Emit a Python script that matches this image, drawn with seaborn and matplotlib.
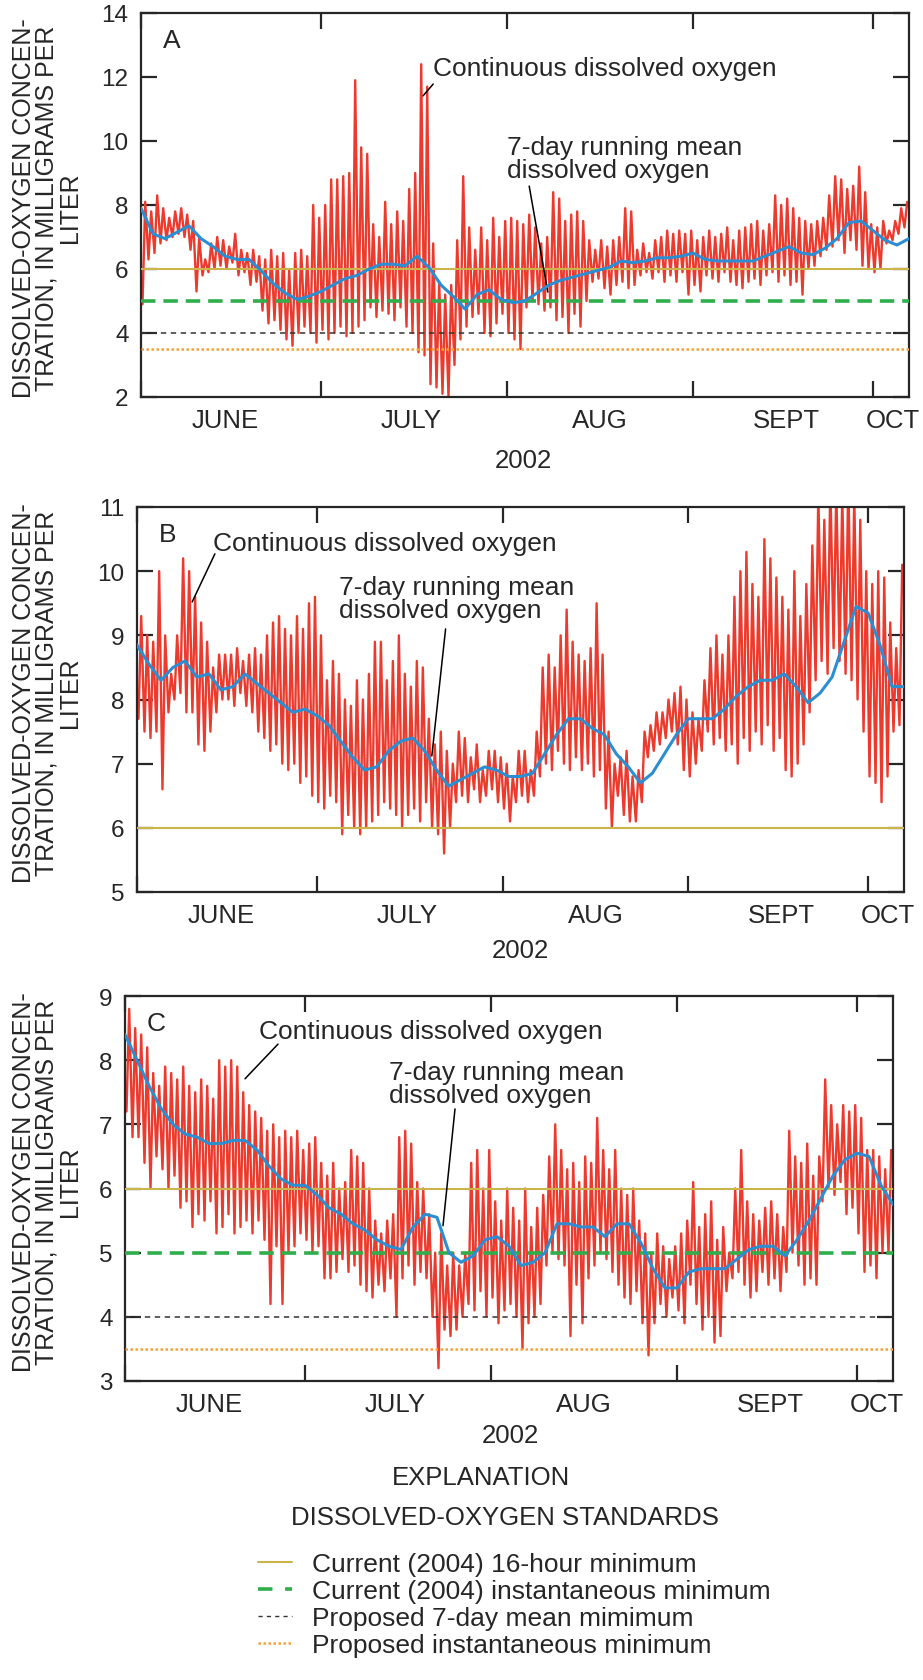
import pandas as pd
import matplotlib.pyplot as plt
import seaborn as sns
from matplotlib.lines import Line2D

# --- data: days counted from June 1, 2002 ---
month_ticks = [0, 30, 61, 92, 122]
month_label_pos = [14, 45, 76.5, 107.5, 125.3]
month_labels = ['JUNE', 'JULY', 'AUG', 'SEPT', 'OCT']

# daily max / min of continuous dissolved oxygen (mg/L)
a_max = [8.1, 7.8, 8.3, 7.9, 7.6, 7.8, 7.9, 7.7, 7.5, 7.0, 6.3, 6.8, 7.0, 6.9, 6.7, 7.1,
         6.6, 6.5, 6.6, 6.4, 6.3, 6.6, 6.4, 6.5, 6.0, 6.5, 6.6, 6.4, 8.0, 7.6, 8.0, 8.8,
         8.8, 8.9, 9.0, 11.9, 9.8, 9.6, 7.4, 7.0, 8.1, 7.4, 7.8, 7.5, 8.5, 9.0, 12.4, 11.7,
         6.8, 5.6, 5.2, 5.5, 6.9, 8.9, 7.3, 6.6, 7.3, 6.9, 7.6, 7.0, 7.5, 7.6, 7.5, 7.4,
         7.7, 7.3, 6.8, 7.0, 8.4, 8.2, 7.5, 7.7, 7.8, 7.5, 6.9, 6.6, 6.9, 6.7, 6.9, 7.0,
         7.9, 7.8, 6.6, 6.8, 6.5, 6.9, 7.0, 7.2, 7.1, 7.2, 7.1, 7.2, 6.9, 7.0, 7.2, 7.0,
         7.1, 7.3, 6.9, 7.2, 7.3, 7.4, 7.5, 7.2, 7.4, 8.3, 8.0, 8.2, 7.9, 7.6, 7.5, 7.4,
         7.5, 7.6, 8.3, 8.9, 8.8, 8.5, 8.6, 9.2, 8.4, 7.4, 7.3, 7.5, 7.2, 7.5, 7.9, 8.1]
a_min = [4.9, 6.3, 6.5, 6.8, 6.9, 7.0, 7.1, 7.0, 6.6, 5.3, 5.8, 5.9, 6.0, 6.1, 6.0, 6.2,
         5.8, 5.9, 5.5, 5.6, 4.7, 4.3, 4.4, 4.1, 3.8, 3.6, 4.0, 4.2, 4.0, 3.7, 4.1, 3.8,
         4.0, 4.2, 3.9, 4.0, 4.2, 4.4, 4.8, 4.5, 4.7, 4.6, 4.4, 4.8, 4.2, 4.0, 3.4, 3.3,
         2.4, 2.3, 2.1, 2.0, 3.0, 3.8, 4.2, 4.5, 4.6, 4.0, 3.9, 4.3, 4.6, 4.0, 3.8, 3.5,
         4.8, 5.0, 4.9, 4.7, 4.8, 4.4, 4.5, 4.0, 4.6, 4.2, 5.0, 5.6, 5.7, 5.4, 5.2, 5.5,
         5.6, 5.4, 5.5, 5.8, 5.9, 5.7, 5.9, 5.6, 5.8, 5.6, 5.9, 5.2, 5.5, 5.3, 5.8, 5.7,
         5.6, 5.9, 5.6, 5.5, 5.4, 5.6, 5.7, 5.5, 5.8, 5.9, 5.6, 5.8, 5.5, 5.6, 5.2, 6.0,
         6.1, 6.4, 6.6, 6.7, 6.9, 6.5, 6.9, 6.6, 6.1, 6.0, 5.9, 6.0, 6.8, 6.9, 7.1, 7.3]

b_max = [9.3, 9.0, 8.9, 10.0, 9.0, 8.4, 9.0, 10.2, 10.0, 9.6, 9.2, 8.9, 8.5, 8.7, 8.7, 8.7,
         8.8, 8.6, 8.7, 8.8, 8.7, 9.0, 9.2, 9.3, 9.1, 9.0, 9.3, 9.1, 9.5, 9.6, 9.0, 8.3,
         8.6, 8.4, 8.0, 7.9, 8.3, 8.0, 8.4, 8.9, 8.9, 8.3, 8.6, 9.0, 8.4, 8.2, 8.6, 8.5,
         7.7, 7.3, 7.5, 7.2, 7.0, 7.5, 7.4, 7.1, 7.3, 6.9, 7.2, 7.2, 7.1, 7.0, 6.8, 7.2,
         7.2, 6.9, 7.5, 8.5, 8.7, 8.5, 9.0, 9.4, 8.9, 8.7, 8.6, 8.8, 9.5, 8.7, 7.5, 7.0,
         7.1, 7.2, 6.8, 6.9, 7.5, 7.6, 7.8, 7.8, 8.0, 8.1, 8.2, 8.0, 7.8, 7.7, 8.3, 8.8,
         9.0, 8.7, 9.0, 9.6, 10.0, 10.3, 9.8, 9.6, 10.5, 10.2, 9.9, 9.6, 9.4, 10.0, 9.3, 9.8,
         10.4, 11.2, 10.8, 11.4, 11.3, 11.2, 11.5, 11.2, 10.8, 10.0, 9.8, 10.0, 9.9, 9.2, 8.8, 10.1]
b_min = [7.7, 7.5, 7.4, 7.5, 6.6, 7.8, 8.0, 8.1, 7.8, 7.8, 7.3, 7.2, 7.5, 7.8, 8.0, 8.0,
         7.9, 8.1, 7.9, 7.8, 7.5, 7.4, 7.2, 7.3, 7.0, 6.9, 7.0, 6.7, 6.8, 6.5, 6.4, 6.3,
         6.5, 6.4, 5.9, 6.2, 6.0, 5.9, 6.0, 6.1, 6.2, 6.4, 6.3, 6.2, 6.0, 6.2, 6.3, 6.1,
         6.4, 6.0, 5.9, 5.6, 6.0, 6.4, 6.5, 6.4, 6.6, 6.4, 6.5, 6.6, 6.4, 6.3, 6.1, 6.4,
         6.5, 6.4, 6.5, 6.8, 7.0, 6.9, 7.2, 7.0, 6.9, 7.1, 6.9, 7.0, 6.8, 6.9, 6.3, 6.0,
         6.5, 6.2, 6.1, 6.1, 6.4, 7.1, 7.2, 7.3, 7.4, 7.5, 7.3, 6.9, 6.8, 7.0, 7.2, 7.5,
         7.3, 7.4, 7.2, 7.3, 7.0, 7.4, 7.2, 7.5, 7.3, 7.6, 7.2, 7.4, 6.9, 6.8, 7.0, 7.3,
         7.8, 8.3, 8.6, 8.4, 8.8, 8.6, 8.4, 8.3, 8.0, 7.5, 6.8, 6.7, 6.4, 6.8, 7.5, 7.6]

c_max = [8.8, 8.5, 8.4, 8.2, 7.8, 7.6, 7.9, 7.8, 7.7, 7.9, 7.6, 7.5, 7.7, 7.6, 7.4, 8.0,
         7.9, 8.0, 7.9, 7.5, 7.3, 7.2, 7.1, 6.9, 7.0, 6.8, 6.9, 6.8, 6.9, 6.6, 6.7, 6.8,
         6.4, 6.2, 6.4, 6.0, 6.1, 6.6, 6.5, 6.4, 6.0, 5.5, 5.3, 5.5, 5.6, 6.8, 6.9, 6.7,
         6.1, 6.0, 5.6, 5.0, 5.3, 4.8, 5.0, 4.8, 5.0, 6.4, 6.6, 6.0, 6.6, 5.8, 5.5, 6.0,
         5.7, 5.5, 6.0, 5.4, 5.7, 5.9, 6.5, 7.0, 6.6, 6.3, 6.4, 6.1, 6.5, 6.4, 7.1, 6.6,
         6.3, 6.6, 6.0, 5.9, 6.0, 5.5, 5.3, 5.0, 5.3, 5.1, 4.9, 5.1, 5.3, 5.5, 6.1, 5.4,
         5.6, 5.8, 5.2, 5.4, 5.0, 6.0, 6.6, 5.8, 5.6, 5.5, 5.7, 5.8, 5.6, 5.4, 6.9, 6.5,
         6.4, 6.7, 6.2, 6.5, 7.7, 7.3, 7.0, 7.3, 7.2, 7.3, 7.1, 6.6, 6.6, 6.5, 6.3, 6.6]
c_min = [7.2, 6.8, 6.8, 6.4, 6.0, 6.5, 6.3, 6.0, 6.2, 5.7, 5.8, 5.4, 5.6, 5.5, 5.8, 5.3,
         5.4, 5.6, 5.3, 5.4, 5.5, 5.3, 5.5, 5.2, 4.2, 5.1, 4.2, 5.0, 5.1, 5.3, 5.2, 5.0,
         5.1, 4.6, 4.6, 4.7, 4.9, 4.7, 4.8, 4.5, 4.4, 4.3, 4.5, 4.4, 4.6, 4.0, 4.6, 4.8,
         4.5, 4.7, 4.6, 4.0, 3.2, 3.8, 3.7, 3.8, 4.0, 4.2, 4.1, 4.4, 4.0, 4.3, 3.9, 4.1,
         4.2, 4.0, 3.5, 3.9, 4.0, 4.2, 4.8, 5.0, 4.9, 4.8, 3.7, 4.5, 3.9, 4.6, 4.8, 5.0,
         4.9, 4.7, 4.5, 4.3, 4.2, 4.4, 3.9, 3.4, 3.9, 4.2, 4.0, 4.3, 4.1, 3.9, 4.5, 4.2,
         3.8, 4.0, 3.6, 3.7, 4.4, 4.6, 4.7, 4.5, 4.3, 4.4, 4.7, 4.5, 4.6, 4.4, 4.7, 5.0,
         4.8, 4.5, 4.6, 4.5, 5.8, 6.0, 5.9, 6.1, 5.6, 5.7, 5.3, 4.7, 4.8, 4.6, 5.0, 5.0]

# 7-day running mean, read every second day
mean_days = list(range(0, 129, 2))
a_mean = [7.9, 7.1, 6.95, 7.15, 7.35, 6.95, 6.7, 6.4, 6.3, 6.3, 5.95, 5.55, 5.25, 5.05, 5.15, 5.3,
          5.5, 5.7, 5.8, 6.0, 6.15, 6.15, 6.1, 6.4, 6.05, 5.5, 5.15, 4.75, 5.2, 5.35, 5.05, 4.95,
          5.0, 5.25, 5.5, 5.65, 5.75, 5.85, 5.95, 6.05, 6.25, 6.2, 6.25, 6.35, 6.35, 6.4, 6.5, 6.3,
          6.25, 6.25, 6.25, 6.25, 6.4, 6.55, 6.7, 6.5, 6.45, 6.65, 6.95, 7.45, 7.5, 7.2, 6.9, 6.75, 6.95]
b_mean = [8.85, 8.55, 8.3, 8.5, 8.6, 8.35, 8.4, 8.15, 8.2, 8.4, 8.25, 8.1, 7.95, 7.8, 7.85, 7.75,
          7.6, 7.35, 7.1, 6.9, 6.95, 7.2, 7.35, 7.4, 7.2, 6.9, 6.65, 6.75, 6.85, 6.95, 6.9, 6.8,
          6.8, 6.85, 7.15, 7.45, 7.7, 7.7, 7.55, 7.45, 7.15, 6.95, 6.7, 6.85, 7.15, 7.45, 7.7, 7.7,
          7.7, 7.85, 8.05, 8.2, 8.3, 8.3, 8.4, 8.2, 7.95, 8.1, 8.35, 8.9, 9.45, 9.35, 8.85, 8.2, 8.2]
c_mean = [8.4, 8.0, 7.6, 7.25, 7.0, 6.85, 6.8, 6.7, 6.7, 6.75, 6.75, 6.6, 6.35, 6.15, 6.05, 6.05,
          5.9, 5.7, 5.6, 5.45, 5.35, 5.2, 5.1, 5.05, 5.4, 5.6, 5.55, 5.0, 4.85, 4.95, 5.2, 5.25,
          5.1, 4.8, 4.85, 5.0, 5.45, 5.45, 5.4, 5.4, 5.25, 5.45, 5.45, 5.15, 4.75, 4.45, 4.45, 4.7,
          4.75, 4.75, 4.75, 4.9, 5.05, 5.1, 5.1, 4.95, 5.2, 5.5, 5.85, 6.2, 6.45, 6.55, 6.5, 6.05, 5.75]

# standards (mg/L)
std_16hr = 6
std_inst = 5
prop_7day = 4
prop_inst = 3.5

RED = '#ec3a2c'
BLUE = '#2b8ed2'
OLIVE = '#cbb54a'
GREEN = '#2fae4b'
ORANGE = '#f8a136'
GREY = '#333333'

sns.set_style("ticks")
plt.rcParams['font.family'] = ['Liberation Sans', 'DejaVu Sans']

W, H = 923, 1681
fig = plt.figure(figsize=(W / 100, H / 100), dpi=100)


def zigzag(dmax, dmin):
    t, v = [], []
    for d, (hi, lo) in enumerate(zip(dmax, dmin)):
        t += [d + 0.25, d + 0.7]
        v += [lo, hi]
    return pd.DataFrame({'day': t, 'do': v})


def panel(rect, dmax, dmin, dmean, ylim, yticks, standards, letter):
    ax = fig.add_axes([rect[0] / W, 1 - rect[3] / H, (rect[2] - rect[0]) / W, (rect[3] - rect[1]) / H])
    sns.lineplot(data=zigzag(dmax, dmin), x='day', y='do', ax=ax, color=RED, lw=1.7,
                 estimator=None, sort=False, zorder=2)
    sns.lineplot(x=mean_days, y=dmean, ax=ax, color=BLUE, lw=2.2, estimator=None, zorder=5)
    if 6 in standards:
        ax.axhline(std_16hr, color=OLIVE, lw=1.5, zorder=3)
    if 5 in standards:
        ax.axhline(std_inst, color=GREEN, lw=2.6, dashes=(4, 2.2), zorder=3)
    if 4 in standards:
        ax.axhline(prop_7day, color=GREY, lw=1.1, dashes=(3.5, 3), zorder=3)
    if 3.5 in standards:
        ax.axhline(prop_inst, color=ORANGE, lw=1.8, dashes=(1, 1), zorder=3)
    ax.set_xlim(0, 128)
    ax.set_ylim(*ylim)
    ax.set_xticks(month_ticks)
    ax.set_xticklabels([])
    ax.set_xticks(month_label_pos, minor=True)
    ax.set_xticklabels(month_labels, minor=True)
    ax.set_yticks(yticks)
    ax.set_xlabel('')
    ax.set_ylabel('')
    ax.tick_params(which='major', direction='in', length=11.5, width=1.6,
                   top=True, bottom=True, left=True, right=True, labelsize=17.5, pad=9)
    ax.tick_params(axis='x', which='minor', length=0, labelsize=18.5, pad=8)
    for s in ax.spines.values():
        s.set_linewidth(1.6)
        s.set_visible(True)
    ax.text(0.04, 0.93, letter, transform=ax.transAxes, fontsize=19, ha='center', va='center')
    return ax


ax_a = panel((141, 14, 909, 398), a_max, a_min, a_mean, (2, 14), range(2, 15, 2), [6, 5, 4, 3.5], 'A')
ax_b = panel((137, 508, 904, 893), b_max, b_min, b_mean, (5, 11), range(5, 12), [6], 'B')
ax_c = panel((125, 997, 893, 1382), c_max, c_min, c_mean, (3, 9), range(3, 10), [6, 5, 4, 3.5], 'C')

ylab = 'DISSOLVED-OXYGEN CONCEN-\nTRATION, IN MILLIGRAMS PER\nLITER'
for yc in (208, 693, 1182):
    fig.text(47 / W, 1 - yc / H, ylab, rotation=90, ha='center', va='center',
             fontsize=18, linespacing=0.95, multialignment='center')

for xc, yc in ((523, 461), (520, 951), (510, 1436)):
    fig.text(xc / W, 1 - yc / H, '2002', ha='center', va='center', fontsize=18.5)


def callout(ax, txt, tx, ty, x0, y0, x1, y1):
    ax.text(tx, ty, txt, ha='left', va='center', fontsize=19, linespacing=0.95, zorder=6)
    ax.annotate('', xy=(x1, y1), xytext=(x0, y0),
                arrowprops=dict(arrowstyle='-', lw=1.1, color='black', shrinkA=0, shrinkB=0))


callout(ax_a, 'Continuous dissolved oxygen', 48.7, 12.28, 48.7, 11.78, 47.0, 11.41)
callout(ax_a, '7-day running mean\ndissolved oxygen', 61.0, 9.44, 64.7, 8.59, 67.8, 5.28)
callout(ax_b, 'Continuous dissolved oxygen', 12.7, 10.44, 13.0, 10.27, 9.2, 9.52)
callout(ax_b, '7-day running mean\ndissolved oxygen', 33.7, 9.57, 51.5, 9.10, 49.2, 7.12)
callout(ax_c, 'Continuous dissolved oxygen', 22.3, 8.45, 25.5, 8.25, 20.0, 7.71)
callout(ax_c, '7-day running mean\ndissolved oxygen', 44.0, 7.63, 55.0, 7.24, 53.0, 5.42)

fig.text(481 / W, 1 - 1478 / H, 'EXPLANATION', ha='center', va='center', fontsize=18.5)
fig.text(505 / W, 1 - 1518 / H, 'DISSOLVED-OXYGEN STANDARDS', ha='center', va='center', fontsize=18.5)

handles = [
    Line2D([], [], color=OLIVE, lw=1.5),
    Line2D([], [], color=GREEN, lw=2.6, dashes=(4, 3.5)),
    Line2D([], [], color=GREY, lw=1.0, dashes=(3, 3)),
    Line2D([], [], color=ORANGE, lw=1.8, dashes=(1, 1)),
]
labels = ['Current (2004) 16-hour minimum', 'Current (2004) instantaneous minimum',
          'Proposed 7-day mean mimimum', 'Proposed instantaneous minimum']
fig.legend(handles, labels, loc='upper left', bbox_to_anchor=(258 / W, 1 - 1553 / H),
           frameon=False, fontsize=19, handlelength=1.3, handletextpad=0.75,
           labelspacing=0.12, borderpad=0, borderaxespad=0)

fig.savefig('out.png', dpi=100)
